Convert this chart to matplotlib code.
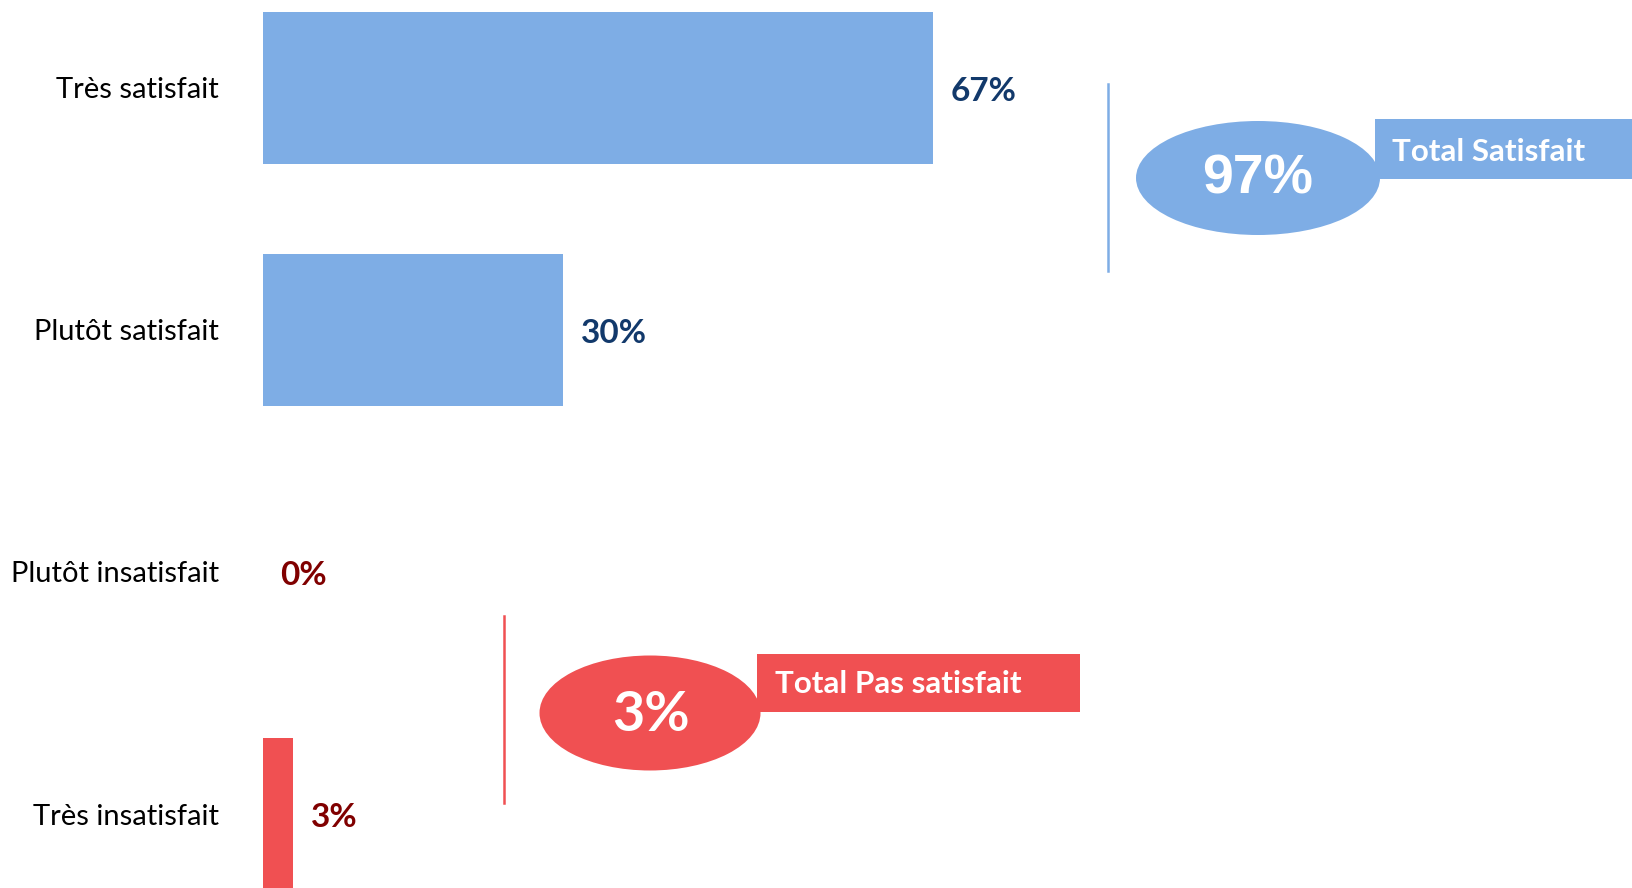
import matplotlib.pyplot as plt
from matplotlib.patches import Ellipse, Rectangle

plt.rcParams['font.family'] = ['Lato', 'DejaVu Sans']

categories = ['Très satisfait', 'Plutôt satisfait', 'Plutôt insatisfait', 'Très insatisfait']
values = [67, 30, 0, 3]
positive = [True, True, False, False]

blue = '#7EADE5'
red = '#F05052'
navy = '#12396B'
dark_red = '#800000'

W, H = 1633, 888
fig = plt.figure(figsize=(W / 100, H / 100), dpi=100)
fig.patch.set_facecolor('white')

# bar area: zero line at 263px, 10px per percent, 242px between rows
x0 = 263.5
ax = fig.add_axes([x0 / W, 0, 1 - x0 / W, 1])
ax.set_xlim(0, (W - x0) / 10)
ax.set_ylim((H - 88) / 242, -88 / 242)
for s in ax.spines.values():
    s.set_visible(False)
ax.set_xticks([])

ypos = list(range(len(categories)))
cols = [blue if p else red for p in positive]
ax.barh(ypos, values, height=0.632, color=cols)
ax.set_yticks(ypos, labels=categories)
ax.tick_params(axis='y', length=0, pad=32, labelsize=21)

for y, v, p in zip(ypos, values, positive):
    ax.text(v + 1.7, y + 0.015, f'{v}%', va='center', ha='left', fontsize=24,
            fontweight='bold', color=navy if p else dark_red)

total_sat = sum(v for v, p in zip(values, positive) if p)
total_insat = sum(v for v, p in zip(values, positive) if not p)


def fx(x):
    return x / W


def fy(y):
    return 1 - y / H


def callout(color, line_x, line_y0, line_y1, ell, rect, big, big_pos, label, label_pos, big_font):
    fig.add_artist(plt.Line2D([fx(line_x), fx(line_x)], [fy(line_y0), fy(line_y1)],
                              color=color, lw=1.8, transform=fig.transFigure))
    rx0, ry0, rx1, ry1 = rect
    fig.add_artist(Rectangle((fx(rx0), fy(ry1)), fx(rx1 - rx0), (ry1 - ry0) / H,
                             facecolor=color, edgecolor='none', transform=fig.transFigure))
    cx, cy, ew, eh = ell
    fig.add_artist(Ellipse((fx(cx), fy(cy)), ew / W, eh / H, facecolor=color,
                           edgecolor='none', transform=fig.transFigure))
    fig.text(fx(big_pos[0]), fy(big_pos[1]), big, ha='center', va='center',
             fontsize=40, fontweight='bold', color='white', family=big_font)
    fig.text(fx(label_pos[0]), fy(label_pos[1]), label, ha='center', va='center',
             fontsize=22.6, fontweight='bold', color='white')


callout(blue, 1108, 84, 271, (1258, 178, 244, 114), (1375, 119, 1640, 179),
        f'{total_sat}%', (1258, 179), 'Total Satisfait', (1489, 152),
        ['Liberation Sans', 'DejaVu Sans'])
callout(red, 504, 616, 803, (650, 713, 221, 115), (757, 654, 1080, 712),
        f'{total_insat}%', (651, 715), 'Total Pas satisfait', (898, 684),
        ['Lato', 'DejaVu Sans'])

fig.savefig('out.png', dpi=100, facecolor='white')
